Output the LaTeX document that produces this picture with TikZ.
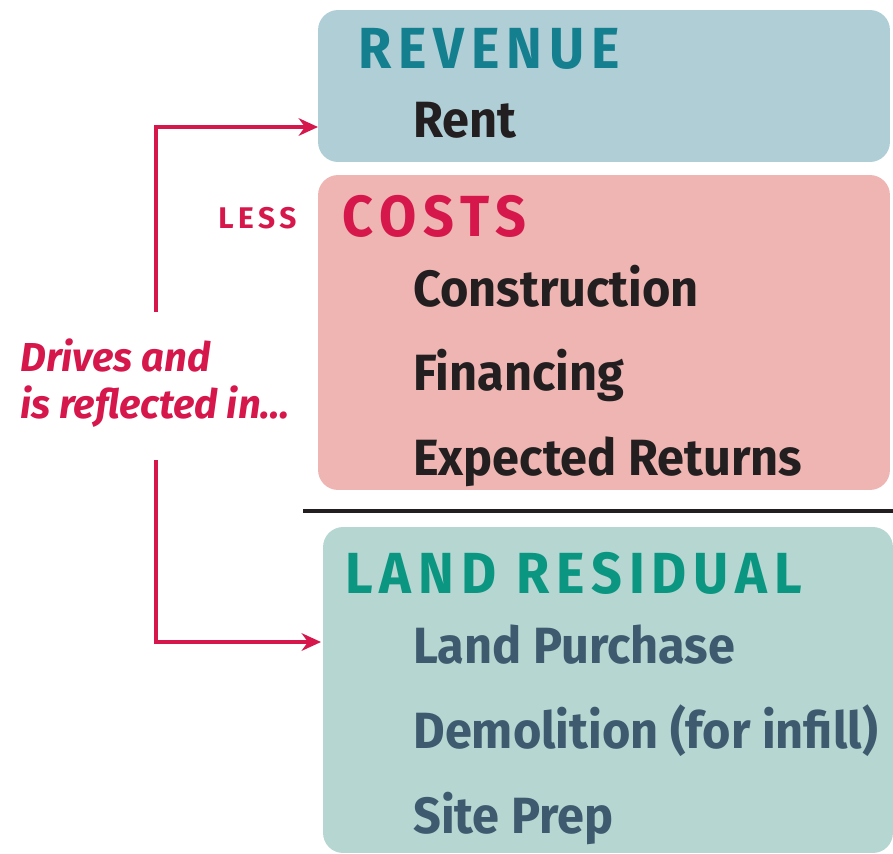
\documentclass[tikz,border=0pt]{standalone}
\usepackage{fontspec}
\setmainfont{Fira Sans}
\newfontfamily\itemfont[FakeStretch=0.955]{Fira Sans}
\newfontfamily\notefont[FakeStretch=0.99]{Fira Sans}
\newfontfamily\headfont[FakeStretch=0.93,LetterSpace=12]{Fira Sans}
\newfontfamily\smallheadfont[LetterSpace=15]{Fira Sans}
\usetikzlibrary{arrows.meta, positioning}

\definecolor{revbg}{HTML}{B0CED6}
\definecolor{costbg}{HTML}{EEB5B2}
\definecolor{landbg}{HTML}{B5D6D1}
\definecolor{revhead}{HTML}{147F8E}
\definecolor{crimson}{HTML}{D5174B}
\definecolor{landhead}{HTML}{0B9682}
\definecolor{slate}{HTML}{3E5A6F}
\definecolor{ink}{HTML}{231F20}

\tikzset{
  panel/.style={rounded corners=0.4cm, inner sep=0pt},
  heading/.style={anchor=base west, inner sep=0pt, font=\headfont\bfseries\fontsize{33}{36}\selectfont},
  entry/.style={anchor=base west, inner sep=0pt, font=\itemfont\bfseries\fontsize{29}{32}\selectfont},
  link/.style={crimson, line width=2pt, -{Stealth[length=11pt, width=10pt]}}
}

\begin{document}
\begin{tikzpicture}[x=0.02cm, y=-0.02cm]
        \useasboundingbox (0,0) rectangle (893,853);

        % Coloured panels
        \node (revenue) [panel, fill=revbg, minimum width=11.44cm, minimum height=3.04cm] at (604,86) {};
        \node (costs) [panel, fill=costbg, minimum width=11.44cm, minimum height=6.3cm] at (604,332.5) {};
        \node (land) [panel, fill=landbg, minimum width=11.4cm, minimum height=6.52cm] at (608,690) {};

        % Separator
        \coordinate (sepL) at (303,511);
        \coordinate (sepR) at (893,511);
        \draw[ink, line width=2.8pt] (sepL) -- (sepR);

        % Revenue
        \node (revtitle) [heading, revhead] at (358,68) {REVENUE};
        \node (rent) [entry, ink] at (413,137) {Rent};

        % Costs
        \node (less) [heading, crimson, font=\smallheadfont\bfseries\fontsize{17}{20}\selectfont] at (218,228) {LESS};
        \node (costtitle) [heading, crimson] at (342,236) {COSTS};
        \node (constr) [entry, ink] at (413,306) {Construction};
        \node (financ) [entry, ink] at (413,390) {Financing};
        \node (returns) [entry, ink] at (413,475) {Expected Returns};

        % Land residual
        \node (landtitle) [heading, landhead] at (345,593) {LAND RESIDUAL};
        \node (purchase) [entry, slate] at (413,663) {Land Purchase};
        \node (demol) [entry, slate] at (413,748) {Demolition (for infill)};
        \node (prep) [entry, slate] at (413,833) {Site Prep};

        % Side note and arrows
        \node (note) [anchor=north west, inner sep=0pt, align=left, crimson,
          font=\notefont\bfseries\itshape\fontsize{23}{27}\selectfont] at (20,338)
          {Drives and\\is reflected in\dots};
        \coordinate (upstart) at (156,312);
        \coordinate (downstart) at (156,460);
        \coordinate (revin) at (318,127);
        \coordinate (landin) at (321,642);
        \draw[link] (upstart) |- (revin);
        \draw[link] (downstart) |- (landin);
\end{tikzpicture}
\end{document}
